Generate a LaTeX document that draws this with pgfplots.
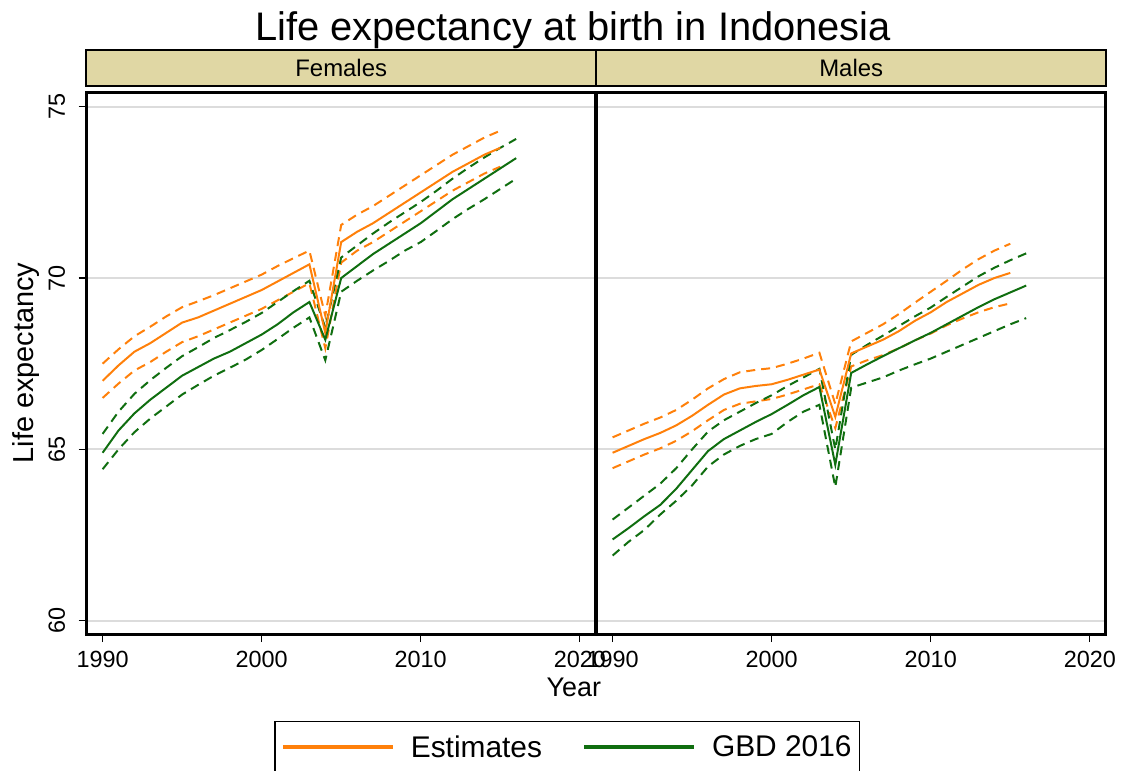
\documentclass[border=0pt]{standalone}
\usepackage{fontspec}
\setmainfont{Liberation Sans}
\usepackage{pgfplots}
\usepackage{pgfplotstable}
\pgfplotsset{compat=1.18}
\definecolor{estc}{RGB}{255,128,10}
\definecolor{gbdc}{RGB}{16,110,16}
\definecolor{stripc}{RGB}{224,215,164}
\definecolor{gridc}{RGB}{220,220,220}

% Females: estimates
\pgfplotstableread{
year est lo hi
1990 67.00 66.50 67.50
1991 67.45 66.92 67.92
1992 67.85 67.30 68.30
1993 68.10 67.55 68.58
1994 68.40 67.85 68.88
1995 68.70 68.13 69.15
1996 68.85 68.30 69.32
1997 69.05 68.50 69.50
1998 69.25 68.70 69.70
1999 69.45 68.90 69.90
2000 69.65 69.10 70.10
2001 69.90 69.35 70.35
2002 70.15 69.60 70.58
2003 70.40 69.85 70.80
2004 68.40 67.95 68.90
2005 71.05 70.45 71.55
2006 71.35 70.80 71.85
2007 71.60 71.05 72.10
2008 71.90 71.35 72.40
2009 72.20 71.65 72.70
2010 72.50 71.95 73.00
2011 72.80 72.25 73.30
2012 73.10 72.55 73.60
2013 73.35 72.80 73.85
2014 73.60 73.05 74.10
2015 73.80 73.25 74.30
}\femest

% Females: GBD 2016
\pgfplotstableread{
year est lo hi
1990 64.90 64.42 65.45
1991 65.55 65.00 66.10
1992 66.05 65.50 66.62
1993 66.45 65.90 67.02
1994 66.80 66.25 67.38
1995 67.15 66.60 67.72
1996 67.40 66.88 67.98
1997 67.65 67.15 68.25
1998 67.85 67.38 68.48
1999 68.10 67.62 68.72
2000 68.35 67.90 68.98
2001 68.65 68.22 69.30
2002 69.00 68.55 69.62
2003 69.30 68.85 69.92
2004 68.20 67.60 68.55
2005 70.00 69.60 70.60
2006 70.35 69.92 70.95
2007 70.70 70.22 71.30
2008 71.00 70.50 71.62
2009 71.30 70.80 71.92
2010 71.60 71.05 72.22
2011 71.95 71.38 72.55
2012 72.30 71.72 72.90
2013 72.60 72.02 73.22
2014 72.90 72.30 73.52
2015 73.20 72.60 73.80
2016 73.50 72.90 74.06
}\femgbd

% Males: estimates
\pgfplotstableread{
year est lo hi
1990 64.90 64.45 65.35
1991 65.10 64.65 65.55
1992 65.30 64.85 65.75
1993 65.48 65.03 65.93
1994 65.70 65.25 66.15
1995 65.98 65.53 66.45
1996 66.30 65.85 66.78
1997 66.60 66.15 67.05
1998 66.78 66.33 67.25
1999 66.85 66.40 67.32
2000 66.90 66.47 67.37
2001 67.03 66.60 67.50
2002 67.18 66.75 67.65
2003 67.33 66.90 67.82
2004 65.95 65.62 66.32
2005 67.80 67.42 68.15
2006 68.00 67.60 68.40
2007 68.20 67.75 68.65
2008 68.45 67.95 68.95
2009 68.75 68.18 69.28
2010 69.00 68.38 69.60
2011 69.30 68.62 69.92
2012 69.55 68.82 70.25
2013 69.80 69.00 70.55
2014 70.00 69.15 70.80
2015 70.15 69.26 71.00
}\malest

% Males: GBD 2016
\pgfplotstableread{
year est lo hi
1990 62.37 61.90 62.95
1991 62.70 62.30 63.30
1992 63.05 62.65 63.65
1993 63.38 63.10 64.00
1994 63.85 63.50 64.45
1995 64.40 63.95 65.00
1996 64.95 64.50 65.52
1997 65.30 64.85 65.85
1998 65.55 65.10 66.10
1999 65.80 65.30 66.35
2000 66.03 65.45 66.58
2001 66.30 65.80 66.85
2002 66.58 66.10 67.10
2003 66.82 66.30 67.35
2004 64.55 63.90 65.00
2005 67.23 66.80 67.76
2006 67.48 66.95 68.05
2007 67.72 67.10 68.32
2008 67.95 67.30 68.60
2009 68.18 67.48 68.88
2010 68.40 67.65 69.14
2011 68.65 67.85 69.45
2012 68.90 68.05 69.75
2013 69.15 68.25 70.05
2014 69.38 68.45 70.30
2015 69.58 68.65 70.52
2016 69.78 68.83 70.72
}\malgbd

\pgfplotsset{
  panel/.style={
    scale only axis, width=509bp, height=542bp,
    xmin=1989, xmax=2021, ymin=59.61, ymax=75.43,
    xtick={1990,2000,2010,2020}, ytick={60,65,70,75},
    axis line style={line width=3bp},
    tick align=outside, major tick length=8bp,
    tick style={black, line width=1.3bp},
    xtick pos=bottom, ytick pos=left,
    ymajorgrids, grid style={gridc, line width=1.8bp},
    /pgf/number format/assume math mode=true,
    /pgf/number format/1000 sep={},
    tick label style={font=\fontsize{23.5}{24}\selectfont},
    xticklabel shift=6bp,
    title style={at={(axis description cs:0.5,1)}, anchor=south, fill=stripc,
      draw=black, line width=2bp, minimum width=510bp, minimum height=36bp,
      inner sep=0pt, font=\fontsize{24}{26}\selectfont, yshift=-1bp},
  },
  est/.style={estc, line width=2bp},
  estd/.style={estc, line width=2bp, dash pattern=on 9bp off 6bp, forget plot},
  gbd/.style={gbdc, line width=2bp},
  gbdd/.style={gbdc, line width=2bp, dash pattern=on 9bp off 6bp, forget plot},
}

\begin{document}
\begin{tikzpicture}
\useasboundingbox (0bp,0bp) rectangle (1127bp,-771bp);

\begin{axis}[panel, name=F, at={(86.7bp,-634bp)}, anchor=south west,
  title={Females},
  yticklabel style={rotate=90, anchor=south},
  yticklabel shift=10bp,
  ylabel={Life expectancy},
  every axis y label/.style={at={(axis description cs:-0.119,0.5)}, rotate=90, anchor=center,
    font=\fontsize{29}{30}\selectfont},
  xlabel={Year},
  every axis x label/.style={at={(axis description cs:0.957,-0.1162)}, anchor=base,
    font=\fontsize{27}{28}\selectfont},
  legend style={at={(axis description cs:0.944,-0.1598)}, anchor=north,
    legend columns=2, draw=black, line width=1.5bp,
    font=\fontsize{30}{32}\selectfont, inner xsep=6bp, inner ysep=12bp,
    /tikz/every odd column/.append style={column sep=14bp},
    /tikz/every even column/.append style={column sep=38bp}},
  legend cell align=left,
  legend image code/.code={\draw[#1, line width=4bp] (0bp,0bp) -- (110bp,0bp);},
]
\addplot[estd] table[x=year, y=hi] {\femest};
\addplot[estd] table[x=year, y=lo] {\femest};
\addplot[gbdd] table[x=year, y=hi] {\femgbd};
\addplot[gbdd] table[x=year, y=lo] {\femgbd};
\addplot[est] table[x=year, y=est] {\femest};
\addlegendentry{Estimates}
\addplot[gbd] table[x=year, y=est] {\femgbd};
\addlegendentry{GBD 2016}
\end{axis}

\begin{axis}[panel, name=M, at={(596.7bp,-634bp)}, anchor=south west,
  title={Males},
  yticklabels={}, ytick style={draw=none},
]
\addplot[estd] table[x=year, y=hi] {\malest};
\addplot[estd] table[x=year, y=lo] {\malest};
\addplot[gbdd] table[x=year, y=hi] {\malgbd};
\addplot[gbdd] table[x=year, y=lo] {\malgbd};
\addplot[est] table[x=year, y=est] {\malest};
\addplot[gbd] table[x=year, y=est] {\malgbd};
\end{axis}

\node[anchor=base, font=\fontsize{40}{44}\selectfont] at (573bp,-40bp) {Life expectancy at birth in Indonesia};
\end{tikzpicture}
\end{document}
